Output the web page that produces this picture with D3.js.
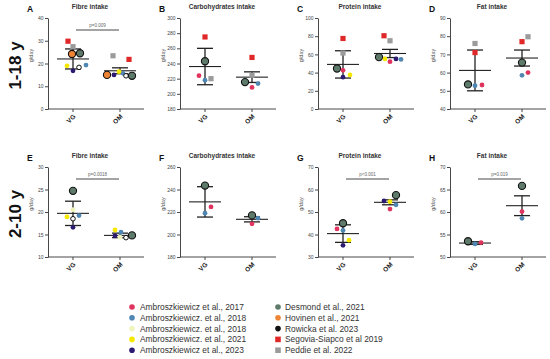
<!DOCTYPE html>
<html>
<head>
<meta charset="utf-8">
<script src="https://cdn.jsdelivr.net/npm/d3@7"></script>
<style>
  body { margin: 0; background: #fff; }
  svg { font-family: Arial, "Liberation Sans", sans-serif; }
</style>
</head>
<body>
<svg id="chart" width="550" height="359"></svg>
<script>
// studies (legend order)
const studyNames = ["Ambroszkiewicz et al., 2017", "Ambroszkiewicz. et al., 2018", "Ambroszkiewicz. et al., 2018",
    "Ambroszkiewicz. et al., 2021", "Ambroszkiewicz et al., 2023", "Desmond et al., 2021", "Hovinen et al., 2021",
    "Rowicka et al. 2023", "Segovia-Siapco et al 2019", "Peddie et al. 2022"];
const studyColors = ["#e0335e", "#4f86b2", "#eef4bb", "#f6e800", "#2c1b70", "#5e7a6a", "#ee8434", "#111111", "#e02828", "#9b9b9b"];
const studyShapes = ["circle", "circle", "circle", "circle", "circle", "big", "big", "open", "square", "square"];

const groups = ["VG", "OM"];
const panelLetters = ["A", "B", "C", "D", "E", "F", "G", "H"];
const panelTitles = ["Fibre intake", "Carbohydrates intake", "Protein intake", "Fat intake",
    "Fibre intake", "Carbohydrates intake", "Protein intake", "Fat intake"];
const yDomains = [[0, 40], [180, 300], [0, 100], [40, 90], [10, 30], [180, 260], [30, 70], [50, 70]];
const yTickValues = [
    [0, 10, 20, 30, 40], [180, 200, 220, 240, 260, 280, 300], [0, 20, 40, 60, 80, 100], [40, 50, 60, 70, 80, 90],
    [10, 15, 20, 25, 30], [180, 200, 220, 240, 260], [30, 40, 50, 60, 70], [50, 55, 60, 65, 70]];

// study index per point, and value (g/day)
const vgStudies = [[8, 9, 6, 5, 3, 4, 1, 7], [8, 5, 0, 1, 9], [8, 9, 5, 0, 4, 3], [9, 8, 5, 1, 0],
    [5, 2, 3, 7, 1, 4], [5, 0, 1], [5, 1, 0, 3, 4], [5, 1, 0]];
const vgValues = [[29.8, 27.4, 24.2, 24.5, 19.0, 16.8, 19.3, 18.3], [275, 243, 224, 218, 220], [77.5, 61.5, 44.5, 42.5, 35, 37.5],
    [76, 71, 53.5, 52.8, 53.2], [24.7, 20.5, 18.9, 18.5, 19.2, 16.6], [243.5, 224.5, 219], [45, 41.8, 42.5, 37.5, 35.2], [53.5, 52.9, 53.2]];
const omStudies = [[9, 8, 6, 4, 1, 3, 7, 5], [8, 9, 5, 1, 0], [8, 9, 5, 3, 0, 4, 1], [9, 8, 5, 0, 1],
    [3, 1, 4, 7, 5, 2], [5, 1, 0], [5, 4, 3, 1, 0], [5, 0, 1]];
const omValues = [[23.4, 21.8, 15.0, 15.0, 15.7, 16.4, 14.6, 14.6], [248, 224.5, 215.5, 213.5, 208.5], [80.5, 75, 57, 55, 52, 55, 54.5],
    [79.7, 77, 65.5, 60, 58.5], [16.0, 15.5, 14.7, 14.3, 14.8, 14.4], [217, 214.5, 209.5], [57.5, 54.9, 54.6, 53.2, 51.3], [65.8, 60.1, 58.6]];

// horizontal jitter of points, in px
const vgJitter = [[-5, 0, -1, 7, -6, 0, 13, 6], [0, 0, -6, 0, 6], [0, 0, -6, 0, 0, 7], [0, 0, -7, 0, 7],
    [0, 0, -6, 0, 6, 0], [0, 6, 0], [0, 0, -6, 6, 0], [-7, 0, 6]];
const omJitter = [[-7, 9, -13, -6, 3, -1, 6, 12], [0, 0, -7, 6, 0], [-6, 0, -11, -5, 0, 6, 11], [6, 0, 0, 6, 0],
    [-5, 1, -5, 6, 12, 0], [0, 6, 0], [6, -6, 0, 6, 0], [0, 0, 0]];

// mean and SD per group
const vgMean = [22.0, 236, 49, 61.2, 19.7, 229, 40.4, 53.1];
const vgSD = [4.4, 24, 15, 11.2, 2.7, 13.5, 3.9, 0.3];
const omMean = [16.8, 222, 61, 68, 14.8, 213.5, 54.3, 61.4];
const omSD = [1.3, 7, 4.5, 4.4, 0.5, 2.3, 1.1, 2.2];
const pTexts = ["p=0.009", null, null, null, "p=0.0018", null, "p<0.001", "p=0.019"];

const rowLabels = ["1-18 y", "2-10 y"];

const svg = d3.select("#chart");
const axisLefts = [48, 180, 318, 450];
const rowTops = [18, 167];
const rowBottoms = [109, 257];

rowLabels.forEach((t, r) => {
    const cy = (rowTops[r] + rowBottoms[r]) / 2 + 2;
    svg.append("text")
        .attr("transform", `translate(21,${cy}) rotate(-90)`)
        .attr("text-anchor", "middle")
        .attr("font-size", 17)
        .attr("font-weight", "bold")
        .attr("fill", "#111")
        .text(t);
});

function drawPoint(g, study, x, y) {
    const shape = studyShapes[study];
    if (shape === "square") {
        g.append("rect").attr("x", x - 2.6).attr("y", y - 2.6).attr("width", 5.2).attr("height", 5.2)
            .attr("fill", studyColors[study]);
    } else if (shape === "big") {
        g.append("circle").attr("cx", x).attr("cy", y).attr("r", 3.6)
            .attr("fill", studyColors[study]).attr("stroke", "#111").attr("stroke-width", 1.1);
    } else if (shape === "open") {
        g.append("circle").attr("cx", x).attr("cy", y).attr("r", 2.3)
            .attr("fill", "#fff").attr("stroke", "#111").attr("stroke-width", 1);
    } else {
        g.append("circle").attr("cx", x).attr("cy", y).attr("r", 2.4)
            .attr("fill", studyColors[study]);
    }
}

for (let i = 0; i < 8; i++) {
    const row = Math.floor(i / 4);
    const left = axisLefts[i % 4];
    const g = svg.append("g");

    const y = d3.scaleLinear().domain(yDomains[i]).range([rowBottoms[row], rowTops[row]]);
    const x = d3.scalePoint().domain(groups).range([left + 25, left + 72]);

    // y axis
    const yAxis = g.append("g")
        .attr("transform", `translate(${left},0)`)
        .call(d3.axisLeft(y).tickValues(yTickValues[i]).tickSize(3).tickSizeOuter(0).tickPadding(1.5));
    yAxis.selectAll("text").attr("font-size", 5).attr("fill", "#444");
    yAxis.selectAll("line, path").attr("stroke", "#333").attr("stroke-width", 0.9);

    // x axis
    const xAxisG = g.append("g").attr("transform", `translate(0,${rowBottoms[row]})`);
    xAxisG.append("line").attr("x1", left).attr("x2", left + 96)
        .attr("stroke", "#333").attr("stroke-width", 0.9);
    groups.forEach(c => {
        xAxisG.append("line").attr("x1", x(c)).attr("x2", x(c)).attr("y1", 0).attr("y2", 3)
            .attr("stroke", "#333").attr("stroke-width", 0.9);
        xAxisG.append("text")
            .attr("transform", `translate(${x(c) + 3},${8}) rotate(-45)`)
            .attr("text-anchor", "end")
            .attr("font-size", 6.5)
            .attr("font-weight", "bold")
            .attr("fill", "#222")
            .text(c);
    });

    // letter and title
    g.append("text").attr("x", left - 21).attr("y", rowTops[row] - 6)
        .attr("font-size", 8.5).attr("font-weight", "bold").attr("fill", "#111").text(panelLetters[i]);
    g.append("text").attr("x", left + 42).attr("y", rowTops[row] - 9)
        .attr("text-anchor", "middle").attr("font-size", 6.5).attr("font-weight", "bold").attr("fill", "#333")
        .text(panelTitles[i]);

    // y label
    g.append("text")
        .attr("transform", `translate(${left - 15},${(rowTops[row] + rowBottoms[row]) / 2 - 8}) rotate(-90)`)
        .attr("text-anchor", "middle").attr("font-size", 5.5).attr("fill", "#555").text("g/day");

    // mean +/- SD
    [[vgMean[i], vgSD[i], "VG"], [omMean[i], omSD[i], "OM"]].forEach(([m, s, c]) => {
        const cx = x(c);
        g.append("line").attr("x1", cx).attr("x2", cx).attr("y1", y(m - s)).attr("y2", y(m + s))
            .attr("stroke", "#222").attr("stroke-width", 1.3);
        [m - s, m + s].forEach(v => g.append("line").attr("x1", cx - 8).attr("x2", cx + 8)
            .attr("y1", y(v)).attr("y2", y(v)).attr("stroke", "#222").attr("stroke-width", 1.3));
        g.append("line").attr("x1", cx - 16).attr("x2", cx + 16).attr("y1", y(m)).attr("y2", y(m))
            .attr("stroke", "#222").attr("stroke-width", 1.1);
    });

    // points
    vgStudies[i].forEach((s, k) => drawPoint(g, s, x("VG") + vgJitter[i][k], y(vgValues[i][k])));
    omStudies[i].forEach((s, k) => drawPoint(g, s, x("OM") + omJitter[i][k], y(omValues[i][k])));

    // significance bracket
    if (pTexts[i]) {
        const by = rowTops[row] + 12;
        g.append("line").attr("x1", x("VG") + 3).attr("x2", x("OM") - 1).attr("y1", by).attr("y2", by)
            .attr("stroke", "#333").attr("stroke-width", 0.9);
        g.append("text").attr("x", (x("VG") + x("OM")) / 2 + 1).attr("y", by - 3)
            .attr("text-anchor", "middle").attr("font-size", 4.5).attr("fill", "#666").text(pTexts[i]);
    }
}

// legend
const legendCols = [{dot: 132, text: 140}, {dot: 278, text: 285}];
studyNames.forEach((name, k) => {
    const col = legendCols[Math.floor(k / 5)];
    const ly = 307 + (k % 5) * 10.8;
    const lg = svg.append("g");
    if (studyShapes[k] === "square") {
        lg.append("rect").attr("x", col.dot - 2.8).attr("y", ly - 2.8).attr("width", 5.6).attr("height", 5.6)
            .attr("fill", studyColors[k]);
    } else {
        lg.append("circle").attr("cx", col.dot).attr("cy", ly).attr("r", 2.8).attr("fill", studyColors[k]);
    }
    lg.append("text").attr("x", col.text).attr("y", ly + 3).attr("font-size", 8.4).attr("fill", "#333").text(name);
});
</script>
</body>
</html>
